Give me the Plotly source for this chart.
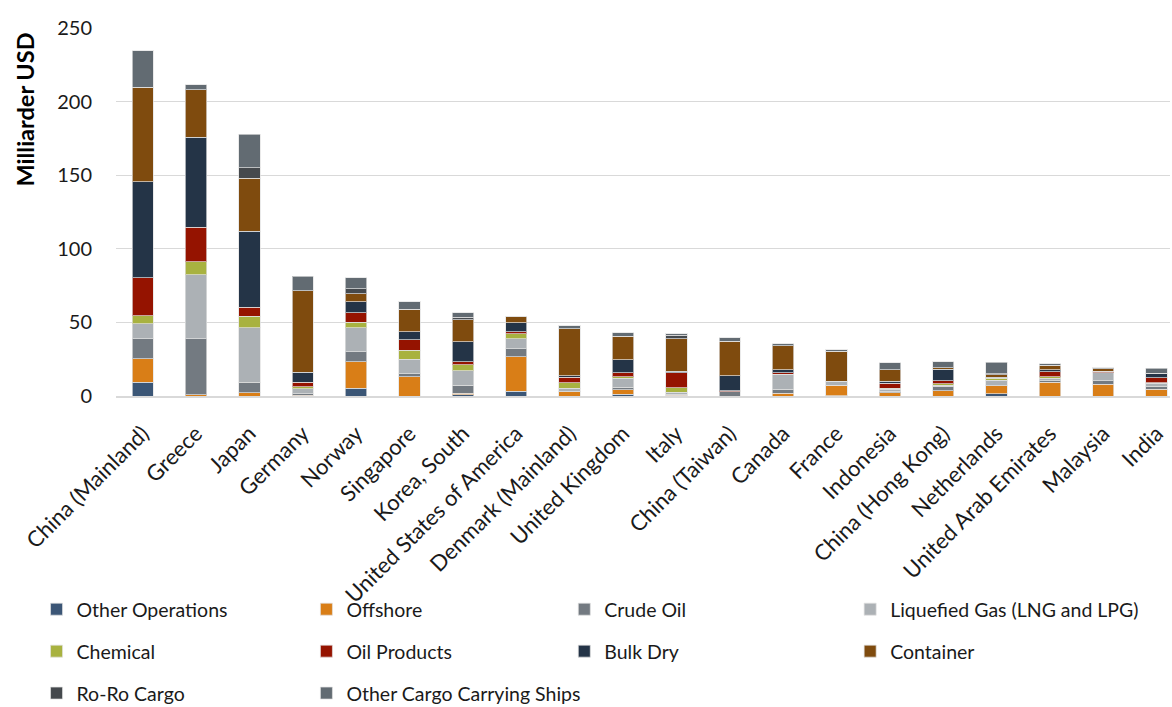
import plotly.graph_objects as go

countries = ["China (Mainland)", "Greece", "Japan", "Germany", "Norway", "Singapore",
             "Korea, South", "United States of America", "Denmark (Mainland)", "United Kingdom",
             "Italy", "China (Taiwan)", "Canada", "France", "Indonesia", "China (Hong Kong)",
             "Netherlands", "United Arab Emirates", "Malaysia", "India"]

other_operations = [9.4, 0, 0, 0, 5.1, 0, 0.9, 3.1, 0, 1.2, 0, 0, 0, 0.3, 0, 0, 1.5, 0, 0, 0]
offshore = [15.8, 0.8, 2.2, 0.5, 18.1, 13.0, 1.0, 23.5, 3.0, 3.0, 0.6, 0, 1.9, 7.0, 2.3, 3.5, 5.6, 9.2, 8.0, 4.6]
crude_oil = [13.8, 38.2, 7.2, 1.2, 6.8, 2.1, 5.4, 5.6, 0.3, 1.6, 0.6, 2.8, 2.7, 0, 1.0, 3.1, 0, 1.3, 2.5, 2.0]
liquefied_gas = [10.0, 43.4, 37.1, 3.2, 16.5, 9.7, 9.8, 6.6, 1.8, 6.1, 1.2, 0, 10.2, 2.7, 1.2, 0.7, 3.6, 1.4, 5.2, 1.9]
chemical = [5.6, 8.8, 7.7, 1.3, 3.6, 6.3, 4.1, 3.6, 3.9, 1.3, 3.2, 0, 0, 0, 0.8, 1.0, 1.2, 1.1, 0, 0.5]
oil_products = [25.6, 23.6, 6.1, 3.0, 6.3, 7.2, 2.0, 1.4, 3.8, 2.5, 10.1, 0.9, 1.1, 0, 3.4, 2.0, 0.6, 3.4, 1.1, 3.3]
bulk_dry = [65.5, 61.0, 51.5, 6.8, 7.5, 5.3, 13.6, 5.9, 1.1, 8.9, 1.1, 10.0, 1.9, 0, 1.4, 7.9, 0.3, 1.6, 0, 2.7]
container = [64.1, 32.4, 36.0, 55.6, 5.4, 15.3, 15.1, 4.2, 31.9, 16.0, 22.0, 23.5, 16.3, 20.4, 7.6, 0.9, 1.8, 2.9, 1.7, 0.5]
ro_ro_cargo = [0, 0, 7.4, 0, 3.4, 0, 1.6, 0, 0, 0, 2.5, 0, 0, 0, 0, 0, 0.5, 0, 0, 0]
other_cargo = [24.6, 3.1, 22.7, 9.9, 7.5, 5.0, 2.9, 0, 1.8, 2.3, 1.1, 2.3, 1.5, 1.1, 5.0, 4.3, 7.7, 1.1, 0.6, 3.2]

series_names = ["Other Operations", "Offshore", "Crude Oil", "Liquefied Gas (LNG and LPG)",
                "Chemical", "Oil Products", "Bulk Dry", "Container", "Ro-Ro Cargo",
                "Other Cargo Carrying Ships"]
series_values = [other_operations, offshore, crude_oil, liquefied_gas, chemical, oil_products,
                 bulk_dry, container, ro_ro_cargo, other_cargo]
colors = ["#3B5676", "#D97E17", "#737A81", "#ACB1B5", "#A8B240", "#951300",
          "#243447", "#7F4B0E", "#45494D", "#626B72"]
legend_ids = ["legend", "legend2", "legend3", "legend4",
              "legend", "legend2", "legend3", "legend4",
              "legend", "legend2"]

FONT = "Lato"
fig = go.Figure()
for name, vals, col, lg in zip(series_names, series_values, colors, legend_ids):
    fig.add_trace(go.Bar(
        x=countries, y=vals, name=name,
        marker=dict(color=col, line=dict(color="rgba(225,225,225,0.7)", width=1)),
        legend=lg, legendgroup=name,
    ))

PAGE_W, PAGE_H = 1172, 707
L, R, T, B = 115.5, 1170.0, 28.0, 396.0
W = R - L
H = B - T

def px_x(p):
    return (p - L) / W

def px_y(p):
    return (B - p) / H

legend_common = dict(
    orientation="v", xanchor="left", yanchor="top", traceorder="grouped",
    tracegroupgap=13.6, font=dict(family=FONT, size=19.5, color="#1a1a1a"),
    bgcolor="rgba(0,0,0,0)", borderwidth=0,
)
col_px = [36, 306, 564, 850]
legend_top = 590

fig.update_layout(
    width=PAGE_W, height=PAGE_H,
    margin=dict(l=L, r=PAGE_W - R, t=T, b=PAGE_H - B, autoexpand=False),
    barmode="stack", bargap=0.6,
    plot_bgcolor="white", paper_bgcolor="white",
    font=dict(family=FONT, size=19, color="#1a1a1a"),
    showlegend=True,
    legend=dict(x=px_x(col_px[0]), y=px_y(legend_top), **legend_common),
    legend2=dict(x=px_x(col_px[1]), y=px_y(legend_top), **legend_common),
    legend3=dict(x=px_x(col_px[2]), y=px_y(legend_top), **legend_common),
    legend4=dict(x=px_x(col_px[3]), y=px_y(legend_top), **legend_common),
    xaxis=dict(
        range=[-0.5, 19.25], tickangle=-45, showgrid=False,
        showline=True, linecolor="#D9D9D9", linewidth=2,
        tickfont=dict(family=FONT, size=22, color="#1a1a1a"),
        ticks="", ticklabelstandoff=14, automargin=False,
    ),
    yaxis=dict(
        range=[0, 250], tickvals=[0, 50, 100, 150, 200, 250],
        showgrid=True, gridcolor="#D9D9D9", gridwidth=1.3,
        zeroline=False, ticks="", ticklabelstandoff=23, automargin=False,
        tickfont=dict(family=FONT, size=20, color="#1a1a1a"),
    ),
    annotations=[dict(
        text="<b>Milliarder USD</b>", textangle=-90,
        xref="paper", yref="paper", x=px_x(24), y=px_y(110),
        xanchor="center", yanchor="middle", showarrow=False,
        font=dict(family=FONT, size=23.5, color="#000"),
    )],
)

fig.write_html("out.html")
